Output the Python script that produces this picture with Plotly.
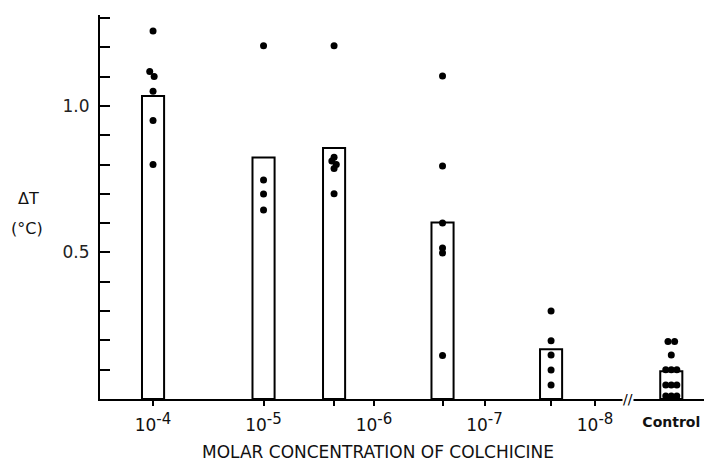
import numpy as np
import plotly.graph_objects as go

# ---------------- data ----------------
concentrations = [1e-4, 1e-5, 2.3e-6, 2.4e-7, 2.5e-8]   # molar
bar_means = [1.034, 0.824, 0.856, 0.602, 0.170]          # delta T (deg C)
control_mean = 0.095

dots_1e4 = [1.255, 1.117, 1.100, 1.050, 0.950, 0.800]
dots_1e5 = [1.205, 0.747, 0.699, 0.645]
dots_2e6 = [1.205, 0.825, 0.812, 0.800, 0.786, 0.700]
dots_2e7 = [1.102, 0.795, 0.600, 0.515, 0.498, 0.148]
dots_2e8 = [0.300, 0.199, 0.150, 0.099, 0.048]
dots_control = [0.196, 0.196, 0.150, 0.100, 0.100, 0.100,
                0.048, 0.048, 0.048, 0.010, 0.010, 0.010]
# horizontal spread (decades) of overlapping points
jitter_1e4 = [0, -0.03, 0.01, 0, 0, 0]
jitter_2e6 = [0, 0, -0.02, 0.02, 0, 0]
jitter_control = [-0.03, 0.03, 0, -0.05, 0, 0.05, -0.05, 0, 0.05, -0.05, 0, 0.05]

tick_exponents = [4, 5, 6, 7, 8]
tick_labels = ["10<sup><span style='font-size:15px'>-4</span></sup>",
               "10<sup><span style='font-size:15px'>-5</span></sup>",
               "10<sup><span style='font-size:15px'>-6</span></sup>",
               "10<sup><span style='font-size:15px'>-7</span></sup>",
               "10<sup><span style='font-size:15px'>-8</span></sup>"]
control_label = "Control"
x_title = "MOLAR CONCENTRATION OF COLCHICINE"
y_title = ["ΔT", "(°C)"]
y_tick_vals = [0.1, 0.2, 0.3, 0.4, 0.5, 0.6, 0.7, 0.8, 0.9, 1.0, 1.1, 1.2, 1.3]
y_tick_text = ["", "", "", "", "0.5", "", "", "", "", "1.0", "", "", ""]

CONTROL_X = 8.69     # position of control group (after axis break)
BREAK_X = 8.30       # axis break marker position
X_RANGE = [3.52, 8.986]
Y_RANGE = [0, 1.31]

# ---------------- figure ----------------
xpos = [-np.log10(c) for c in concentrations]
dot_groups = [dots_1e4, dots_1e5, dots_2e6, dots_2e7, dots_2e8]
jitters = [jitter_1e4, [0] * len(dots_1e5), jitter_2e6,
           [0] * len(dots_2e7), [0] * len(dots_2e8)]

dx, dy = [], []
for xp, ys, js in zip(xpos, dot_groups, jitters):
    for yv, j in zip(ys, js):
        dx.append(xp + j)
        dy.append(yv)

FONT = "DejaVu Sans"
INK = "#111"
fig = go.Figure()
bar_style = dict(marker=dict(color="white", line=dict(color="black", width=2)),
                 width=0.2, showlegend=False, hoverinfo="skip")
fig.add_trace(go.Bar(x=xpos, y=bar_means, **bar_style))
fig.add_trace(go.Bar(x=[CONTROL_X], y=[control_mean], xaxis="x2", **bar_style))
fig.add_trace(go.Scatter(x=dx, y=dy, mode="markers",
                         marker=dict(color="black", size=7), showlegend=False))
fig.add_trace(go.Scatter(x=[CONTROL_X + j for j in jitter_control], y=dots_control,
                         mode="markers", xaxis="x2",
                         marker=dict(color="black", size=7), showlegend=False))

minor_ticks = sorted(tick_exponents + xpos[2:])
minor_text = [tick_labels[tick_exponents.index(t)] if t in tick_exponents else ""
              for t in minor_ticks]

fig.update_layout(
    width=704, height=462,
    margin=dict(l=100, r=0, t=15, b=63),
    paper_bgcolor="white", plot_bgcolor="white",
    barmode="overlay",
    font=dict(family=FONT, color=INK),
    xaxis=dict(range=X_RANGE, showgrid=False, zeroline=False,
               showline=True, linecolor="black", linewidth=2,
               tickvals=minor_ticks, ticktext=minor_text,
               ticks="outside", ticklen=5, tickwidth=1.5, tickcolor="black",
               tickfont=dict(size=17, family=FONT, color=INK),
               ticklabelstandoff=5),
    xaxis2=dict(range=X_RANGE, overlaying="x", anchor="y", side="bottom",
                showgrid=False, zeroline=False, showline=False,
                tickvals=[CONTROL_X], ticktext=[control_label], ticks="",
                tickfont=dict(size=14, family=FONT, color=INK, weight="bold"),
                ticklabelstandoff=13),
    yaxis=dict(range=Y_RANGE, showgrid=False, zeroline=False,
               showline=True, linecolor="black", linewidth=2,
               tickvals=y_tick_vals, ticktext=y_tick_text,
               ticks="inside", ticklen=10, tickwidth=2, tickcolor="black",
               tickfont=dict(size=17, family=FONT, color="#222"),
               ticklabelstandoff=5),
    annotations=[
        dict(text=x_title, x=0.46, y=-0.138, xref="paper", yref="paper",
             xanchor="center", yanchor="middle", showarrow=False,
             font=dict(size=17, family=FONT, color=INK)),
        dict(text=y_title[0], x=-0.119, y=0.523, xref="paper", yref="paper",
             xanchor="center", yanchor="middle",
             showarrow=False, font=dict(size=16, family=FONT, color=INK)),
        dict(text=y_title[1], x=-0.121, y=0.443, xref="paper", yref="paper",
             xanchor="center", yanchor="middle",
             showarrow=False, font=dict(size=16, family=FONT, color=INK)),
        dict(text="//", x=BREAK_X, y=0, xref="x", yref="y",
             showarrow=False, bgcolor="white", borderpad=0,
             font=dict(size=14, family=FONT, color="black")),
    ],
)

fig.write_html("out.html")
